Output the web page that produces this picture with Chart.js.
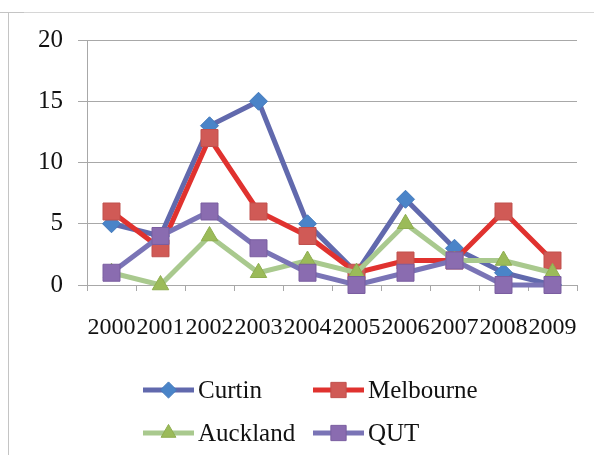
<!DOCTYPE html>
<html>
<head>
<meta charset="utf-8">
<script src="https://cdn.jsdelivr.net/npm/chart.js@4.4.1/dist/chart.umd.min.js"></script>
<style>
  html, body { margin: 0; padding: 0; background: #fff; }
  #wrap { width: 594px; height: 455px; position: relative; }
</style>
</head>
<body>
<div id="wrap"><canvas id="chart" width="594" height="455"></canvas></div>
<script>
// Yearly counts per university
const years = ['2000', '2001', '2002', '2003', '2004', '2005', '2006', '2007', '2008', '2009'];
const curtin    = [5, 4, 13, 15, 5, 1, 7, 3, 1, 0];
const melbourne = [6, 3, 12, 6, 4, 1, 2, 2, 6, 2];
const auckland  = [1, 0, 4, 1, 2, 1, 5, 2, 2, 1];
const qut       = [1, 4, 6, 3, 1, 0, 1, 2, 0, 0];
const yMin = 0, yMax = 20, yStep = 5;

const SERIF = '"Liberation Serif", "Times New Roman", serif';
const GRID = '#a8a8a8';

function series(label, data, line, fill, edge, style, radius, order) {
  return {
    label, data, order,
    borderColor: line, borderWidth: 5,
    pointStyle: style, pointRadius: radius, pointHoverRadius: radius,
    pointBackgroundColor: fill, pointBorderColor: edge, pointBorderWidth: 1,
    tension: 0, clip: false, fill: false
  };
}

const datasets = [
  series('Curtin',    curtin,    '#6169ad', '#4a84c8', '#4279bb', 'rectRot',  9,  4),
  series('Melbourne', melbourne, '#e0322f', '#d05a56', '#c0504d', 'rect',     12, 3),
  series('Auckland',  auckland,  '#a9c98e', '#9bbb59', '#8fae50', 'triangle', 9.5, 2),
  series('QUT',       qut,       '#7a74b6', '#8a6cb0', '#7a5ea0', 'rect',     12, 1)
];

// Page frame and two-column legend with line + marker samples
const framePlugin = {
  id: 'frame',
  beforeDraw(chart) {
    const ctx = chart.ctx;
    ctx.save();
    ctx.fillStyle = '#fff';
    ctx.fillRect(0, 0, chart.width, chart.height);
    ctx.lineWidth = 1;
    ctx.strokeStyle = '#d6d6d6';
    ctx.beginPath();
    ctx.moveTo(8, 12.5); ctx.lineTo(chart.width, 12.5);
    ctx.stroke();
    ctx.strokeStyle = '#c4c4c4';
    ctx.beginPath();
    ctx.moveTo(8.5, 12); ctx.lineTo(8.5, chart.height);
    ctx.moveTo(0, 12.5); ctx.lineTo(24, 12.5);
    ctx.stroke();
    ctx.restore();
  }
};

const legendPlugin = {
  id: 'gridLegend',
  afterDraw(chart) {
    const ctx = chart.ctx;
    const cols = [143, 313];
    const rows = [390, 433];
    ctx.save();
    chart.data.datasets.forEach((ds, i) => {
      const x0 = cols[i % 2], y = rows[Math.floor(i / 2)];
      ctx.strokeStyle = ds.borderColor;
      ctx.lineWidth = 5;
      ctx.lineCap = 'butt';
      ctx.beginPath();
      ctx.moveTo(x0, y); ctx.lineTo(x0 + 51, y);
      ctx.stroke();
      ctx.fillStyle = ds.pointBackgroundColor;
      ctx.strokeStyle = ds.pointBorderColor;
      ctx.lineWidth = 1;
      Chart.helpers.drawPoint(ctx, {
        pointStyle: ds.pointStyle,
        radius: ds.pointRadius * 0.9,
        rotation: 0,
        borderWidth: 1
      }, x0 + 25.5, y);
      ctx.fillStyle = '#111';
      ctx.font = '25px ' + SERIF;
      ctx.textBaseline = 'middle';
      ctx.textAlign = 'left';
      ctx.fillText(ds.label, x0 + 55, y + 1);
    });
    ctx.restore();
  }
};

new Chart(document.getElementById('chart'), {
  type: 'line',
  data: { labels: years, datasets },
  options: {
    responsive: false,
    animation: false,
    events: [],
    layout: { padding: { top: 40, right: 17, bottom: 100, left: 0 } },
    plugins: {
      legend: { display: false },
      tooltip: { enabled: false },
      title: { display: false }
    },
    scales: {
      x: {
        type: 'category',
        offset: true,
        grid: {
          display: true, drawOnChartArea: false, drawTicks: true,
          tickLength: 6, color: GRID, offset: true
        },
        border: { display: true, color: GRID },
        ticks: {
          autoSkip: false, maxRotation: 0, minRotation: 0,
          padding: 22, color: '#111',
          font: { family: SERIF, size: 24 }
        },
        afterFit(scale) {
          scale.height = 70;
          scale.paddingLeft = 0;
          scale.paddingRight = 0;
        }
      },
      y: {
        min: yMin, max: yMax,
        grid: { color: GRID, tickLength: 9 },
        border: { display: true, color: GRID },
        ticks: {
          stepSize: yStep, padding: 15, color: '#111',
          font: { family: SERIF, size: 25 }
        },
        afterFit(scale) {
          scale.width = 87;
          scale.paddingTop = 0;
          scale.paddingBottom = 0;
        }
      }
    }
  },
  plugins: [framePlugin, legendPlugin]
});
</script>
</body>
</html>
